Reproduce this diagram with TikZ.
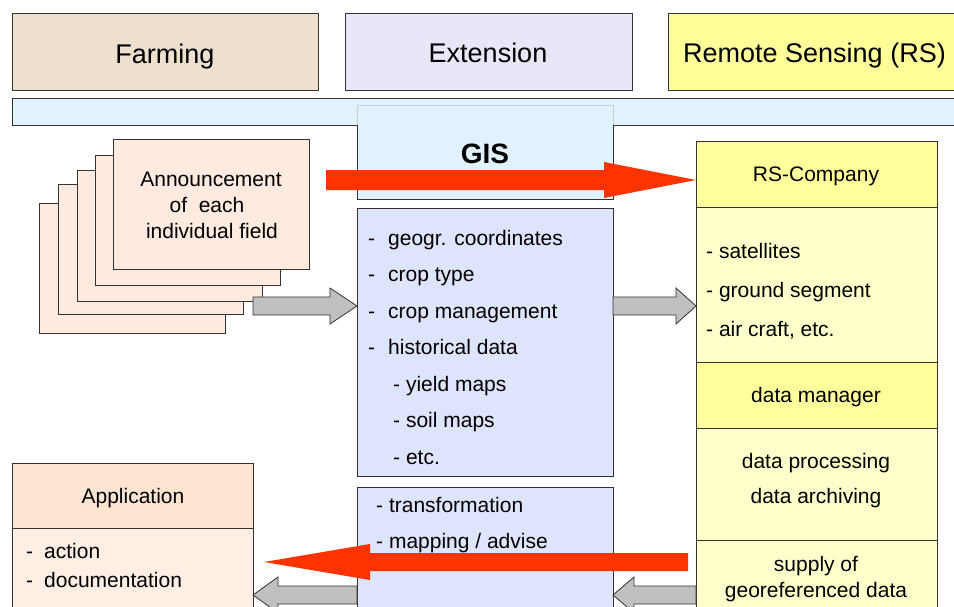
\documentclass[tikz,border=0pt]{standalone}
\usepackage{fontspec}
\setmainfont{Liberation Sans}
\usetikzlibrary{calc}
\definecolor{tanhead}{RGB}{237,224,207}
\definecolor{lavhead}{RGB}{231,231,248}
\definecolor{yelhead}{RGB}{255,255,153}
\definecolor{bandblue}{RGB}{224,242,253}
\definecolor{listfill}{RGB}{222,228,252}
\definecolor{cardfill}{RGB}{254,234,222}
\definecolor{apptitle}{RGB}{253,229,210}
\definecolor{appbody}{RGB}{254,238,228}
\definecolor{rsdark}{RGB}{255,255,155}
\definecolor{rslight}{RGB}{255,255,204}
\definecolor{arrowred}{RGB}{255,51,0}
\definecolor{arrowgray}{RGB}{192,192,192}
\tikzset{
  box/.style={draw=black!80, line width=1pt, rectangle, inner sep=0pt, outer sep=0pt, anchor=north west},
  txt/.style={inner sep=0pt, anchor=base west, font=\fontsize{21}{25}\selectfont},
  ctxt/.style={inner sep=0pt, anchor=base, font=\fontsize{21}{25}\selectfont},
  headtxt/.style={inner sep=0pt, font=\fontsize{27}{32}\selectfont},
  redarrow/.style={fill=arrowred, draw=none},
  grayarrow/.style={fill=arrowgray, draw=black!80, line width=0.8pt},
}
% #1 style, #2 start, #3 tip, #4 shaft half width, #5 head half width, #6 head length
\newcommand\harrow[6]{%
  \path[#1] let \p1=(#2), \p2=(#3), \n1={ifthenelse(\x2>\x1,1,-1)} in
    (\x1,{\y1+#4}) -- ({\x2-\n1*#6},{\y1+#4}) -- ({\x2-\n1*#6},{\y1+#5}) -- (\x2,\y1)
    -- ({\x2-\n1*#6},{\y1-#5}) -- ({\x2-\n1*#6},{\y1-#4}) -- (\x1,{\y1-#4}) -- cycle;}
\begin{document}
\begin{tikzpicture}[x=1pt,y=-1pt]
\clip (0,0) rectangle (954,606);
\fill[white] (0,0) rectangle (954,606);

% header boxes
\node[box, fill=tanhead, minimum width=306pt, minimum height=77pt] (farm) at (12,13) {};
\node[box, fill=lavhead, minimum width=287pt, minimum height=77pt] (ext) at (345,13) {};
\node[box, fill=yelhead, minimum width=300pt, minimum height=77pt] (rs) at (668,13) {};
\node[headtxt, anchor=base] (farmt) at (165,63) {Farming};
\node[headtxt, anchor=base] (extt) at (488,62) {Extension};
\node[headtxt, anchor=base west] (rst) at (683,62) {Remote Sensing (RS)};

% band and GIS
\node[box, fill=bandblue, minimum width=960pt, minimum height=27pt] (band) at (12,98) {};
\node[box, fill=bandblue, draw=black!20, minimum width=256pt, minimum height=94pt] (gis) at (357,105) {};
\draw[black!80, line width=1pt] (357,125) -- (gis.south west) -- (gis.south east) -- (613,125);
\node[inner sep=0pt, anchor=base, font=\fontsize{28}{32}\selectfont\bfseries] (gist) at (485,163) {GIS};

% card stack
\node[box, fill=cardfill, minimum width=186pt, minimum height=130pt] (c5) at (39,203) {};
\node[box, fill=cardfill, minimum width=185pt, minimum height=130pt] (c4) at (58,184) {};
\node[box, fill=cardfill, minimum width=185pt, minimum height=131pt] (c3) at (77,170) {};
\node[box, fill=cardfill, minimum width=185pt, minimum height=130pt] (c2) at (95,155) {};
\node[box, fill=cardfill, minimum width=196pt, minimum height=130pt] (c1) at (113,139) {};
\node[ctxt] (ann1) at (211,186) {Announcement};
\node[ctxt] (ann2) at (207,212) {of\ \ each};
\node[ctxt] (ann3) at (212,238) {individual field};

% GIS list
\node[box, fill=listfill, minimum width=256pt, minimum height=268pt] (list) at (357,208) {};
\foreach \t [count=\i] in {geogr. coordinates, crop type, crop management, historical data}{
  \node[txt] (ld\i) at (368,{245+(\i-1)*36.5}) {-};
  \node[txt] (lt\i) at (388,{245+(\i-1)*36.5}) {\t};
}
\foreach \t [count=\i from 5] in {yield maps, soil maps, etc.}{
  \node[txt] (lt\i) at (393,{245+(\i-1)*36.5}) {- \t};
}

% bottom middle
\node[box, fill=listfill, minimum width=256pt, minimum height=140pt] (botmid) at (357,487) {};
\node[txt] (bm1) at (376,512) {- transformation};
\node[txt] (bm2) at (376,548) {- mapping / advise};

% RS column
\node[box, fill=rsdark, minimum width=241pt, minimum height=66pt] (rscomp) at (696,141) {};
\node[box, fill=rslight, minimum width=241pt, minimum height=155pt] (rsbody) at (696,207) {};
\node[box, fill=rsdark, minimum width=241pt, minimum height=66pt] (dman) at (696,362) {};
\node[box, fill=rslight, minimum width=241pt, minimum height=112pt] (dproc) at (696,428) {};
\node[box, fill=rslight, minimum width=241pt, minimum height=90pt] (supply) at (696,540) {};
\node[ctxt] (rscompt) at (816,181) {RS-Company};
\node[txt] (rs1) at (706,258) {- satellites};
\node[txt] (rs2) at (706,297) {- ground segment};
\node[txt] (rs3) at (706,336) {- air craft, etc.};
\node[ctxt] (dmant) at (816,402) {data manager};
\node[ctxt] (dproc1) at (816,468) {data processing};
\node[ctxt] (dproc2) at (816,503) {data archiving};
\node[ctxt] (sup1) at (816,571) {supply of};
\node[ctxt] (sup2) at (816,597) {georeferenced data};

% Application
\node[box, fill=apptitle, minimum width=241pt, minimum height=65pt] (app) at (12,463) {};
\node[box, fill=appbody, minimum width=241pt, minimum height=90pt] (appb) at (12,528) {};
\node[ctxt] (appt) at (133,503) {Application};
\node[txt] (ad1) at (26,558) {-};
\node[txt] (at1) at (44,558) {action};
\node[txt] (ad2) at (26,587) {-};
\node[txt] (at2) at (44,587) {documentation};

% gray block arrows
\coordinate (g1s) at (253,306);
\harrow{grayarrow}{g1s}{list.west |- g1s}{9pt}{18pt}{27pt}
\coordinate (g2y) at (0,306);
\harrow{grayarrow}{list.east |- g2y}{rsbody.west |- g2y}{9pt}{18pt}{20pt}
\coordinate (g3y) at (0,595);
\harrow{grayarrow}{botmid.west |- g3y}{appb.east |- g3y}{9pt}{18pt}{25pt}
\harrow{grayarrow}{supply.west |- g3y}{botmid.east |- g3y}{9pt}{18pt}{21pt}

% red block arrows
\coordinate (r1s) at (326,180);
\harrow{redarrow}{r1s}{rscomp.west |- r1s}{10pt}{18pt}{92pt}
\coordinate (r2s) at (688,562);
\coordinate (r2e) at (264,562);
\harrow{redarrow}{r2s}{r2e}{9pt}{18pt}{106pt}
\end{tikzpicture}
\end{document}
